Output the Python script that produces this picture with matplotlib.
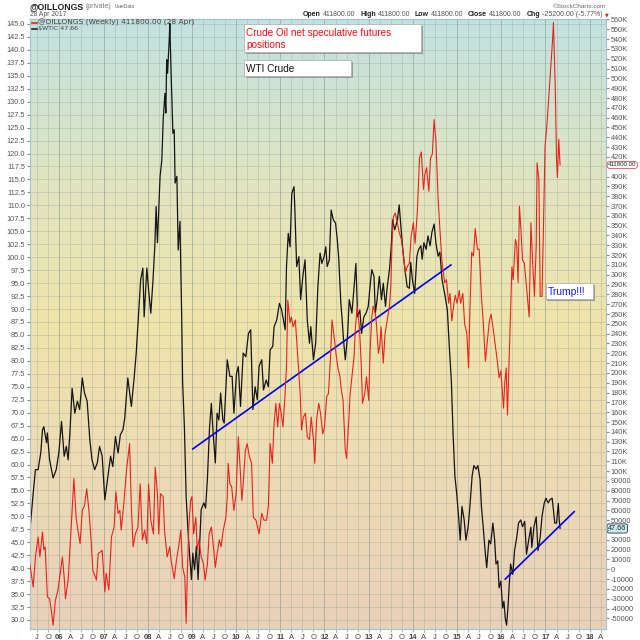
import numpy as np
import matplotlib
matplotlib.use("Agg")
import matplotlib.pyplot as plt
from matplotlib.colors import LinearSegmentedColormap
from matplotlib.ticker import FixedLocator, FuncFormatter, MultipleLocator
from matplotlib.patches import Rectangle
import matplotlib.transforms as mtransforms

plt.rcParams['font.family'] = ['Liberation Sans', 'DejaVu Sans']

# ---------------- data ----------------
# $WTIC weekly close (decimal year, USD)
wti_t = [2005.35, 2005.41, 2005.46, 2005.52, 2005.58, 2005.62, 2005.65, 2005.71, 2005.73, 2005.78,
         2005.86, 2005.93, 2005.99, 2006.05, 2006.11, 2006.16, 2006.20, 2006.24, 2006.29, 2006.35,
         2006.41, 2006.46, 2006.52, 2006.57, 2006.63, 2006.69, 2006.74, 2006.80, 2006.86, 2006.91,
         2006.97, 2007.03, 2007.09, 2007.16, 2007.21, 2007.27, 2007.33, 2007.38, 2007.44, 2007.48,
         2007.55, 2007.63, 2007.69, 2007.74, 2007.80, 2007.84, 2007.89, 2007.92, 2007.98, 2008.02,
         2008.07, 2008.12, 2008.16, 2008.19, 2008.22, 2008.28, 2008.32, 2008.35, 2008.39, 2008.41,
         2008.43, 2008.45, 2008.49, 2008.50, 2008.53, 2008.57, 2008.60, 2008.62, 2008.66, 2008.69,
         2008.73, 2008.77, 2008.79, 2008.83, 2008.87, 2008.91, 2008.95, 2008.99, 2009.02, 2009.06,
         2009.10, 2009.14, 2009.18, 2009.21, 2009.27, 2009.31, 2009.35, 2009.40, 2009.44, 2009.48,
         2009.53, 2009.57, 2009.61, 2009.65, 2009.70, 2009.73, 2009.77, 2009.80, 2009.86, 2009.91,
         2009.95, 2010.01, 2010.05, 2010.10, 2010.16, 2010.22, 2010.28, 2010.33, 2010.38, 2010.43,
         2010.48, 2010.52, 2010.58, 2010.62, 2010.68, 2010.73, 2010.77, 2010.83, 2010.86, 2010.92,
         2010.98, 2011.03, 2011.07, 2011.11, 2011.14, 2011.18, 2011.22, 2011.26, 2011.31, 2011.33,
         2011.37, 2011.42, 2011.46, 2011.51, 2011.56, 2011.61, 2011.66, 2011.69, 2011.75, 2011.80,
         2011.85, 2011.90, 2011.94, 2011.99, 2012.03, 2012.06, 2012.11, 2012.15, 2012.20, 2012.25,
         2012.29, 2012.32, 2012.37, 2012.40, 2012.43, 2012.47, 2012.52, 2012.56, 2012.62, 2012.67,
         2012.71, 2012.75, 2012.80, 2012.84, 2012.89, 2012.94, 2012.99, 2013.03, 2013.07, 2013.12,
         2013.15, 2013.19, 2013.24, 2013.29, 2013.33, 2013.38, 2013.42, 2013.47, 2013.51, 2013.54,
         2013.59, 2013.65, 2013.69, 2013.74, 2013.78, 2013.83, 2013.87, 2013.92, 2013.95, 2013.99,
         2014.04, 2014.09, 2014.13, 2014.18, 2014.21, 2014.25, 2014.30, 2014.34, 2014.39, 2014.43,
         2014.48, 2014.52, 2014.57, 2014.61, 2014.66, 2014.73, 2014.78, 2014.82, 2014.87, 2014.91,
         2014.95, 2014.99, 2015.04, 2015.07, 2015.11, 2015.16, 2015.20, 2015.25, 2015.29, 2015.34,
         2015.38, 2015.43, 2015.47, 2015.52, 2015.55, 2015.59, 2015.64, 2015.67, 2015.72, 2015.76,
         2015.81, 2015.85, 2015.88, 2015.92, 2015.95, 2015.99, 2016.03, 2016.06, 2016.09, 2016.12,
         2016.15, 2016.18, 2016.21, 2016.26, 2016.30, 2016.35, 2016.39, 2016.44, 2016.48, 2016.53,
         2016.57, 2016.62, 2016.67, 2016.69, 2016.74, 2016.79, 2016.83, 2016.88, 2016.92, 2016.97,
         2017.01, 2017.06, 2017.10, 2017.15, 2017.18, 2017.21, 2017.25, 2017.29, 2017.31, 2017.33]
wti_v = [48.7, 54.5, 59.0, 59.0, 62.2, 66.7, 67.3, 64.2, 66.1, 60.9,
         57.4, 59.0, 62.3, 68.3, 61.6, 63.5, 60.9, 66.1, 74.7, 69.9,
         72.2, 70.6, 76.7, 73.8, 72.2, 64.8, 60.9, 59.0, 60.3, 63.5,
         61.6, 53.2, 57.1, 61.6, 59.6, 65.4, 62.2, 65.7, 66.7, 68.9,
         76.7, 71.2, 76.4, 81.5, 89.8, 95.6, 97.9, 88.5, 97.9, 93.7,
         89.2, 95.6, 102.0, 109.8, 102.8, 115.6, 118.8, 126.5, 131.6, 127.8,
         138.1, 135.5, 142.6, 145.1, 135.5, 123.9, 124.6, 114.3, 115.6, 101.4,
         106.9, 87.9, 76.0, 67.3, 53.8, 47.4, 42.3, 37.8, 42.9, 39.7,
         44.2, 37.8, 45.5, 51.3, 52.6, 51.6, 57.1, 67.3, 71.8, 66.1,
         60.3, 69.9, 68.6, 73.8, 68.6, 68.0, 75.0, 80.2, 77.0, 77.0,
         69.9, 77.6, 78.9, 71.2, 81.5, 80.8, 85.3, 86.0, 70.6, 75.0,
         72.5, 79.0, 80.2, 74.4, 76.3, 75.0, 82.1, 82.8, 86.6, 87.9,
         91.1, 89.8, 87.9, 86.0, 98.2, 104.6, 102.0, 112.3, 113.6, 109.1,
         98.2, 100.1, 91.8, 96.3, 99.5, 87.9, 83.4, 86.6, 80.2, 83.4,
         94.3, 100.8, 98.8, 100.1, 102.0, 98.2, 99.5, 109.1, 107.2, 106.6,
         103.3, 100.1, 91.1, 87.9, 84.1, 80.2, 84.7, 91.8, 89.2, 94.3,
         98.8, 88.5, 89.8, 85.3, 88.5, 89.2, 90.5, 94.3, 97.6, 96.3,
         89.2, 91.8, 96.3, 91.8, 95.0, 90.5, 94.3, 97.6, 102.0, 107.2,
         105.3, 107.2, 110.1, 104.6, 100.8, 96.9, 94.3, 94.0, 99.0, 95.6,
         93.0, 100.2, 101.5, 102.2, 99.6, 102.8, 101.5, 104.1, 102.2, 104.8,
         106.4, 102.8, 100.2, 101.0, 95.7, 92.4, 89.8, 83.3, 76.1, 65.7,
         57.8, 54.5, 49.3, 45.4, 51.9, 49.3, 45.4, 48.0, 51.9, 57.8,
         59.8, 59.1, 59.8, 57.1, 51.9, 48.0, 42.7, 40.1, 45.4, 44.7,
         48.7, 45.4, 40.8, 41.4, 36.2, 37.5, 32.3, 33.6, 30.3, 29.0,
         32.3, 36.8, 40.8, 38.8, 43.4, 46.0, 48.7, 49.3, 48.0, 49.0,
         42.7, 45.4, 47.9, 44.0, 48.0, 49.9, 43.4, 46.0, 49.9, 52.5,
         53.5, 52.6, 53.2, 53.5, 51.2, 48.7, 48.7, 52.5, 49.3, 47.66]

# @OILLONGS weekly net speculative positions (decimal year, thousands of contracts)
longs_t = [2005.33, 2005.41, 2005.46, 2005.52, 2005.56, 2005.62, 2005.65, 2005.68, 2005.73, 2005.78,
           2005.82, 2005.86, 2005.91, 2005.97, 2006.02, 2006.07, 2006.11, 2006.14, 2006.20, 2006.25,
           2006.29, 2006.33, 2006.38, 2006.42, 2006.47, 2006.52, 2006.57, 2006.62, 2006.67, 2006.71,
           2006.76, 2006.84, 2006.88, 2006.93, 2006.97, 2007.03, 2007.06, 2007.12, 2007.18, 2007.24,
           2007.28, 2007.33, 2007.37, 2007.40, 2007.46, 2007.52, 2007.59, 2007.63, 2007.67, 2007.72,
           2007.78, 2007.83, 2007.88, 2007.93, 2007.98, 2008.02, 2008.07, 2008.13, 2008.17, 2008.22,
           2008.25, 2008.29, 2008.35, 2008.38, 2008.44, 2008.50, 2008.53, 2008.60, 2008.65, 2008.70,
           2008.75, 2008.79, 2008.84, 2008.87, 2008.90, 2008.93, 2008.97, 2009.00, 2009.04, 2009.09,
           2009.12, 2009.16, 2009.21, 2009.26, 2009.30, 2009.35, 2009.39, 2009.44, 2009.48, 2009.53,
           2009.57, 2009.62, 2009.66, 2009.71, 2009.77, 2009.80, 2009.82, 2009.86, 2009.90, 2009.95,
           2010.00, 2010.05, 2010.09, 2010.13, 2010.16, 2010.21, 2010.25, 2010.30, 2010.35, 2010.39,
           2010.45, 2010.52, 2010.58, 2010.63, 2010.69, 2010.73, 2010.77, 2010.82, 2010.86, 2010.90,
           2010.94, 2010.98, 2011.02, 2011.06, 2011.10, 2011.14, 2011.17, 2011.22, 2011.25, 2011.29,
           2011.34, 2011.37, 2011.42, 2011.45, 2011.48, 2011.52, 2011.57, 2011.61, 2011.66, 2011.70,
           2011.75, 2011.78, 2011.82, 2011.87, 2011.91, 2011.96, 2012.00, 2012.05, 2012.09, 2012.14,
           2012.17, 2012.21, 2012.26, 2012.30, 2012.35, 2012.38, 2012.42, 2012.47, 2012.50, 2012.55,
           2012.58, 2012.63, 2012.67, 2012.70, 2012.74, 2012.79, 2012.83, 2012.86, 2012.91, 2012.95,
           2013.00, 2013.03, 2013.07, 2013.10, 2013.15, 2013.18, 2013.22, 2013.25, 2013.28, 2013.33,
           2013.37, 2013.42, 2013.47, 2013.50, 2013.53, 2013.56, 2013.60, 2013.65, 2013.69, 2013.74,
           2013.78, 2013.83, 2013.87, 2013.92, 2013.96, 2014.01, 2014.05, 2014.10, 2014.15, 2014.19,
           2014.24, 2014.27, 2014.31, 2014.36, 2014.40, 2014.44, 2014.48, 2014.52, 2014.57, 2014.61,
           2014.66, 2014.72, 2014.76, 2014.81, 2014.84, 2014.88, 2014.93, 2014.96, 2015.00, 2015.05,
           2015.08, 2015.13, 2015.17, 2015.22, 2015.26, 2015.29, 2015.33, 2015.37, 2015.41, 2015.46,
           2015.50, 2015.55, 2015.59, 2015.64, 2015.68, 2015.73, 2015.77, 2015.82, 2015.86, 2015.91,
           2015.95, 2015.99, 2016.02, 2016.05, 2016.08, 2016.11, 2016.14, 2016.17, 2016.20, 2016.24,
           2016.27, 2016.32, 2016.35, 2016.38, 2016.41, 2016.45, 2016.48, 2016.52, 2016.57, 2016.63,
           2016.67, 2016.71, 2016.75, 2016.79, 2016.81, 2016.85, 2016.88, 2016.92, 2016.95, 2016.99,
           2017.03, 2017.06, 2017.10, 2017.13, 2017.16, 2017.18, 2017.22, 2017.25, 2017.27, 2017.30,
           2017.33]
longs_k = [5.8, -18, 12.6, 33, 12.6, 38, 20, 22.8, -28, -30,
           -42, -57, -32, -21, -4, 12.6, -8, -30, -11, 28,
           60, 92.6, 53, 40, 26, 60, 65, 82, 60, 36,
           -1, -11, 16, 17.7, 19.4, -23, -4, -21, 33, 43,
           79, 57, 60, 40, 67, 101, 128, 64, 22.8, 36,
           43, 87, 30, 40, 26, 87, 50, 36, 104, 77,
           36, 77, 74, 40, 12.6, 23, 9, -9.5, 9, 23,
           40, 2, -8, -55, 2, 43, 70, 74, 36, 53,
           19.4, 30, 12.6, 5.8, -11, 5, 36, 43, 26, 2,
           16, 30, 23, 40, 53, 74, 108, 87, 84, 60,
           77, 135, 104, 70, 87, 121, 128, 115, 108, 53,
           50, 36, 57, 50, 50, 64, 128, 108, 149, 169,
           145, 169, 159, 145, 172, 206, 274, 251, 257, 247,
           254, 234, 200, 179, 142, 155, 159, 135, 132, 155,
           132, 108, 152, 169, 159, 138, 145, 176, 179, 220,
           254, 240, 220, 206, 196, 183, 172, 121, 113, 152,
           179, 200, 217, 247, 268, 247, 210, 169, 179, 196,
           172, 220, 257, 268, 261, 247, 220, 227, 247, 210,
           240, 254, 268, 288, 336, 359, 363, 353, 343, 336,
           322, 302, 308, 312, 339, 353, 332, 364, 419, 425,
           387, 402, 409, 385, 419, 423, 458, 437, 378, 347,
           312, 292, 295, 271, 281, 253, 271, 279, 271, 284,
           271, 281, 250, 240, 205, 264, 323, 319, 347, 326,
           326, 278, 253, 212, 230, 253, 260, 244, 230, 212,
           195, 202, 184, 164, 191, 205, 157, 202, 250, 308,
           295, 336, 330, 292, 370, 342, 315, 312, 288, 257,
           353, 312, 278, 329, 414, 397, 278, 278, 340, 431,
           451, 471, 499, 519, 539, 557, 492, 417, 399, 438,
           411.8]

# hand-drawn trend lines (decimal year, WTI USD)
trend1_t = [2009.02, 2014.86]
trend1_v = [63.0, 98.5]
trend2_t = [2016.09, 2017.65]
trend2_v = [37.9, 50.9]

years = list(range(2006, 2019))
quarter_labels = {0.25: 'A', 0.5: 'J', 0.75: 'O'}

# ---------------- figure ----------------
W = H = 640.0
def fx(px):
    return px / W
def fy(py):
    return 1 - py / H

fig = plt.figure(figsize=(6.4, 6.4), dpi=100)
fig.patch.set_facecolor('white')
ax = fig.add_axes([fx(30), fy(629), (606 - 30) / W, (629 - 19) / H])
ax2 = ax.twinx()

# background gradient
cmap = LinearSegmentedColormap.from_list('bg', [
    (0.0, '#e9d0ba'), (0.28, '#eddcb4'), (0.5, '#efe4ab'),
    (0.72, '#e2e5c0'), (1.0, '#c2e2e1')])
ax.imshow(np.linspace(0, 1, 256).reshape(-1, 1), cmap=cmap, origin='lower',
          extent=[0, 1, 0, 1], transform=ax.transAxes, aspect='auto', zorder=-5)

ax.set_xlim(2005.337, 2018.369)
ax.set_ylim(28.26, 145.96)
ax2.set_ylim(-60800, 560500)

# lines
ax.plot(wti_t, wti_v, color='#151515', lw=0.9, zorder=3)
ax.plot(trend1_t, trend1_v, color='#0000ee', lw=1.2, zorder=4)
ax.plot(trend2_t, trend2_v, color='#0000ee', lw=1.2, zorder=4)
ax2.plot(longs_t, np.array(longs_k) * 1000, color='#e8231d', lw=0.8, zorder=3)

# x ticks
ax.set_xticks(years)
ax.set_xticklabels(['%02d' % (y % 100) for y in years], fontweight='bold')
minor_pos, minor_lab = [], []
for y in range(2005, 2019):
    for q, lab in quarter_labels.items():
        p = y + q
        if ax.get_xlim()[0] < p < ax.get_xlim()[1]:
            minor_pos.append(p)
            minor_lab.append(lab)
ax.set_xticks(minor_pos, minor=True)
ax.set_xticklabels(minor_lab, minor=True)
ax.tick_params(axis='x', which='both', labelsize=5.5, labelcolor='#444444',
               length=2, pad=1.5, color='#9ab')

# left y
ax.yaxis.set_major_locator(MultipleLocator(2.5))
ax.yaxis.set_major_formatter(FuncFormatter(lambda v, p: '%.1f' % v))
ax.tick_params(axis='y', labelsize=5.3, labelcolor='#555555', length=2.5, pad=1,
               color='#888888')

# right y  (labels hidden behind the last-value tags are left out, as in the original)
last_longs = longs_k[-1] * 1000
last_wti_on_right = None
ax2.yaxis.set_major_locator(FixedLocator(np.arange(-50000, 560001, 10000)))

def rfmt(v, p):
    if abs(v - last_longs) < 6000 or (last_wti_on_right is not None and abs(v - last_wti_on_right) < 6000):
        return ''
    if v >= 100000:
        return '%dK' % round(v / 1000)
    return '%d' % round(v)

# position of the WTI last value expressed on the right scale (for hiding the covered label)
l0, l1 = ax.get_ylim()
r0, r1 = ax2.get_ylim()
last_wti_on_right = r0 + (wti_v[-1] - l0) / (l1 - l0) * (r1 - r0)
ax2.yaxis.set_major_formatter(FuncFormatter(rfmt))
ax2.tick_params(axis='y', labelsize=5.3, labelcolor='#555555', length=2.5, pad=1,
                color='#888888')

# grid
ax.set_axisbelow(True)
gc = '#8a9a8c'
ax.xaxis.grid(True, which='major', color=gc, lw=0.7, alpha=0.6)
ax.xaxis.grid(True, which='minor', color=gc, lw=0.5, alpha=0.4)
ax.yaxis.grid(True, which='major', color=gc, lw=0.5, alpha=0.4)

for a in (ax, ax2):
    for s in a.spines.values():
        s.set_color('#a9c3cf')
        s.set_linewidth(0.8)

# value tags on right axis
blend2 = mtransforms.blended_transform_factory(ax2.transAxes, ax2.transData)
ax2.annotate('411800.00', xy=(1, last_longs), xycoords=blend2,
             xytext=(1.5, 0), textcoords='offset points', va='center', ha='left',
             fontsize=4.4, color='#222222', zorder=10, annotation_clip=False,
             bbox=dict(boxstyle='round,pad=0.15,rounding_size=0.4', fc='white',
                       ec='#d9534f', lw=0.6))
blend1 = mtransforms.blended_transform_factory(ax.transAxes, ax.transData)
ax.annotate('47.66', xy=(1, wti_v[-1]), xycoords=blend1,
            xytext=(1.5, 0), textcoords='offset points', va='center', ha='left',
            fontsize=5.2, color='#222222', zorder=10, annotation_clip=False,
            bbox=dict(boxstyle='round,pad=0.15,rounding_size=0.3', fc='#c9eef0',
                      ec='#333333', lw=0.6))

# in-chart legend
fig.add_artist(plt.Line2D([fx(31.5), fx(36.5)], [fy(22.6), fy(22.6)], color='#e8231d',
                          lw=1.2, transform=fig.transFigure))
fig.text(fx(38.5), fy(22.8), '@OILLONGS (Weekly) 411800.00 (28 Apr)', fontsize=5.4,
         color='#444444', va='center', ha='left', family=['DejaVu Sans'])
fig.add_artist(plt.Line2D([fx(31.5), fx(36.5)], [fy(28.8), fy(28.8)], color='#222222',
                          lw=1.2, transform=fig.transFigure))
fig.text(fx(38.5), fy(28.9), '$WTIC 47.66', fontsize=4.5, color='#444444',
         va='center', ha='left', family=['DejaVu Sans'])

# annotation boxes
def box(x0, y0, x1, y1):
    fig.add_artist(Rectangle((fx(x0 + 1.5), fy(y1 + 1.5)), (x1 - x0) / W, (y1 - y0) / H,
                             transform=fig.transFigure, fc='#9a9a9a', ec='none', zorder=20))
    fig.add_artist(Rectangle((fx(x0), fy(y1)), (x1 - x0) / W, (y1 - y0) / H,
                             transform=fig.transFigure, fc='white', ec='#b5b5b5',
                             lw=0.6, zorder=21))

box(244.3, 24.0, 421.0, 52.3)
fig.text(fx(246.5), fy(36.4), 'Crude Oil net speculative futures', fontsize=7.2,
         color='#ee1111', va='baseline', ha='left', zorder=22)
fig.text(fx(246.5), fy(47.6), 'positions', fontsize=7.2,
         color='#ee1111', va='baseline', ha='left', zorder=22)
box(244.3, 60.3, 351.0, 76.3)
fig.text(fx(246.5), fy(72.0), 'WTI Crude', fontsize=7.2,
         color='#111111', va='baseline', ha='left', zorder=22)
box(545.7, 283.3, 593.3, 299.3)
fig.text(fx(547.7), fy(294.6), 'Trump!!!', fontsize=7.4,
         color='#1a1aff', va='baseline', ha='left', zorder=22)

# header
fig.text(fx(29.5), fy(6.3), '@OILLONGS', fontsize=6.3, fontweight='bold',
         color='#222222', va='center', ha='left')
fig.text(fx(86), fy(6.5), '(private)', fontsize=5.0, color='#777777', va='center', ha='left')
fig.text(fx(115), fy(6.5), 'UserData', fontsize=3.3, color='#555555', va='center', ha='left')
fig.text(fx(29.5), fy(14.6), '28 Apr 2017', fontsize=4.9, color='#555555',
         va='center', ha='left')
fig.text(fx(606), fy(6.0), '\u00a9StockCharts.com', fontsize=4.6, color='#666666',
         va='center', ha='right')

pieces = [('Open', True), ('411800.00', False), ('High', True), ('411800.00', False),
          ('Low', True), ('411800.00', False), ('Close', True), ('411800.00', False),
          ('Chg', True), ('-25200.00 (-5.77%)', False)]
prev = fig.text(fx(303), fy(14.4), pieces[0][0], fontsize=5.0, fontweight='bold',
                color='#222222', va='center', ha='left')
for s, b in pieces[1:]:
    gap = 1.6 if not b else 3.2
    prev = plt.annotate(s, xy=(1, 0.5), xycoords=prev, xytext=(gap, 0),
                        textcoords='offset points', va='center', ha='left',
                        fontsize=5.0, fontweight='bold' if b else 'normal',
                        color='#222222' if b else '#555555', annotation_clip=False)
plt.annotate('\u25bc', xy=(1, 0.5), xycoords=prev, xytext=(1.5, 0),
             textcoords='offset points', va='center', ha='left', fontsize=3.5,
             color='#d02020', family=['DejaVu Sans'], annotation_clip=False)

fig.savefig('out.png', dpi=100)
